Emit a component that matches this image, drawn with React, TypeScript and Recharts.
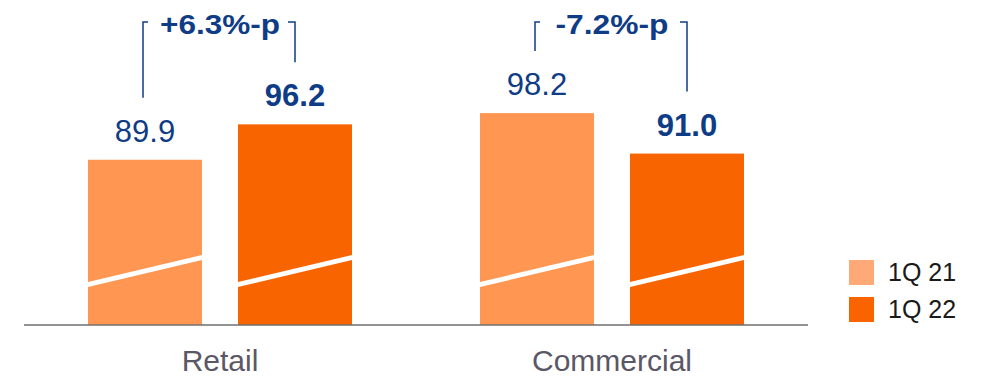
import { BarChart, Bar, XAxis, YAxis, LabelList, Legend } from 'recharts';

// Retail / Commercial ratio, 1Q 21 vs 1Q 22
const categories = ['Retail', 'Commercial'];
const q21Values = [89.9, 98.2];
const q22Values = [96.2, 91.0];
const deltaLabels = ['+6.3%-p', '-7.2%-p'];
const seriesNames = ['1Q 21', '1Q 22'];

const BAR_COLORS = ['#FF9651', '#F76400'];
const LEGEND_COLORS = ['#FFA878', '#F96400'];
const NAVY = '#0f3c86';
const FONT = '"Liberation Sans", Arial, sans-serif';

const data = categories.map((category, i) => ({
  category,
  q21: q21Values[i],
  q22: q22Values[i],
}));

const BAR_GAP = 36;

// bar with a white slanted "axis break" band near the bottom
const BrokenBar = (props: any) => {
  const { x, y, width, height, fill } = props;
  const bottom = y + height;
  return (
    <g>
      <rect x={x} y={y} width={width} height={height} fill={fill} />
      <polygon
        points={`${x},${bottom - 38} ${x + width},${bottom - 65} ${x + width},${bottom - 70} ${x},${bottom - 43}`}
        fill="#ffffff"
      />
    </g>
  );
};

const bracketTop = 22;

const makeLabel = (series: number) => (props: any) => {
  const { x, y, width, value, index } = props;
  const cx = x + width / 2;
  const lineX = series === 0 ? cx - 2 : cx;
  const tick = series === 0 ? 5 : -7;
  return (
    <g>
      <text
        x={cx}
        y={y - 18}
        textAnchor="middle"
        fontSize={31}
        fontWeight={series === 1 ? 'bold' : 'normal'}
        fill={NAVY}
        fontFamily={FONT}
      >
        {Number(value).toFixed(1)}
      </text>
      <path
        d={`M${lineX},${y - 62} L${lineX},${bracketTop} L${lineX + tick},${bracketTop}`}
        stroke={NAVY}
        strokeWidth={1.5}
        fill="none"
      />
      {series === 1 && (
        <text
          x={x - BAR_GAP / 2}
          y={34}
          textAnchor="middle"
          fontSize={28}
          fontWeight="bold"
          fill={NAVY}
          fontFamily={FONT}
          textLength={index === 0 ? 120 : 113}
          lengthAdjust="spacingAndGlyphs"
        >
          {deltaLabels[index]}
        </text>
      )}
    </g>
  );
};

const CategoryTick = (props: any) => {
  const { x, y, payload } = props;
  return (
    <text x={x} y={y + 46} textAnchor="middle" fontSize={30} fill="#5a5766" fontFamily={FONT}>
      {payload.value}
    </text>
  );
};

const LegendContent = () => (
  <div style={{ fontFamily: FONT }}>
    {seriesNames.map((name, i) => (
      <div key={name} style={{ display: 'flex', alignItems: 'center', height: 37 }}>
        <div style={{ width: 25, height: 25, background: LEGEND_COLORS[i], marginRight: 14 }} />
        <span style={{ fontSize: 25, color: '#1a1a1a', lineHeight: '25px' }}>{name}</span>
      </div>
    ))}
  </div>
);

export default function App() {
  return (
    <div style={{ position: 'absolute', left: 0, top: 0, background: '#fff' }}>
      <BarChart
        width={989}
        height={378}
        data={data}
        margin={{ top: 17, right: 181, left: 24, bottom: 0 }}
        barSize={114}
        barGap={BAR_GAP}
      >
        <XAxis
          dataKey="category"
          height={53}
          tickLine={false}
          tickSize={0}
          tickMargin={0}
          axisLine={{ stroke: '#6f6f6f', strokeWidth: 1.5 }}
          tick={<CategoryTick />}
        />
        <YAxis hide domain={[60.5, 115.3]} allowDataOverflow />
        <Legend
          layout="vertical"
          verticalAlign="middle"
          align="center"
          content={<LegendContent />}
          wrapperStyle={{ position: 'absolute', left: 849, top: 254, width: 130 }}
        />
        <Bar dataKey="q21" name={seriesNames[0]} fill={BAR_COLORS[0]} shape={<BrokenBar />} isAnimationActive={false}>
          <LabelList dataKey="q21" content={makeLabel(0)} />
        </Bar>
        <Bar dataKey="q22" name={seriesNames[1]} fill={BAR_COLORS[1]} shape={<BrokenBar />} isAnimationActive={false}>
          <LabelList dataKey="q22" content={makeLabel(1)} />
        </Bar>
      </BarChart>
    </div>
  );
}
